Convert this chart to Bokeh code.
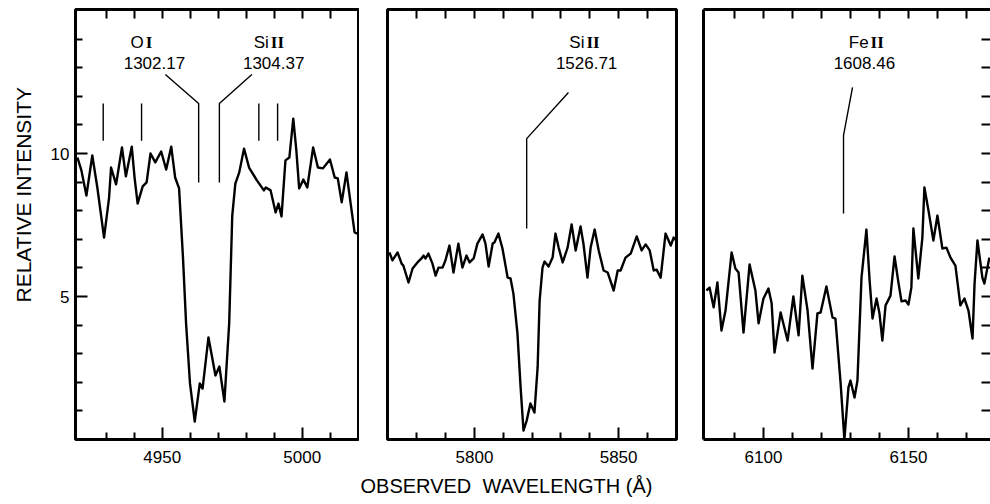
from bokeh.plotting import figure
from bokeh.layouts import row
from bokeh.models import LinearAxis, FixedTicker, Range1d, Title
from bokeh.embed import file_html
from bokeh.resources import INLINE
from bokeh.core.properties import value

FONT = "Liberation Sans"
NUM_FONT = "Liberation Serif"

# ---------------- data ----------------
wl1 = [4919.7, 4921.1, 4922.9, 4925.0, 4926.8, 4929.2, 4931.0, 4931.7, 4933.5, 4935.6,
       4937.0, 4939.1, 4940.1, 4941.2, 4943.0, 4944.4, 4945.8, 4947.5, 4949.6, 4951.4,
       4953.2, 4954.6, 4956.0, 4957.4, 4958.5, 4959.9, 4961.6, 4963.4, 4964.4, 4966.5,
       4969.0, 4970.4, 4972.2, 4973.9, 4975.0, 4976.1, 4977.5, 4979.2, 4981.0, 4983.8,
       4986.3, 4987.0, 4988.7, 4990.5, 4991.5, 4992.6, 4994.0, 4995.4, 4996.8, 4997.9,
       4998.9, 5000.4, 5001.8, 5003.9, 5005.6, 5007.4, 5009.9, 5011.6, 5012.7, 5014.1,
       5015.8, 5017.3, 5018.7, 5019.7]
int1 = [9.86, 9.41, 8.53, 9.93, 8.81, 7.06, 8.46, 9.51, 8.92, 10.21,
        9.20, 10.24, 9.16, 8.25, 8.85, 8.99, 10.0, 9.69, 10.07, 9.44,
        10.24, 9.16, 8.78, 6.36, 4.06, 1.96, 0.63, 1.96, 1.78, 3.57,
        2.24, 2.55, 1.33, 4.06, 7.83, 8.95, 9.34, 10.17, 9.51, 9.06,
        8.71, 8.81, 8.71, 7.94, 8.25, 7.80, 9.76, 9.86, 11.22, 10.10,
        8.78, 9.09, 8.81, 10.21, 9.51, 9.48, 9.79, 9.16, 9.13, 8.29,
        9.34, 8.25, 7.24, 7.20]

wl2 = [5770.5, 5771.5, 5773.3, 5774.7, 5775.3, 5777.1, 5778.5, 5780.2, 5781.6, 5782.3,
       5783.0, 5784.0, 5785.4, 5786.5, 5787.5, 5788.9, 5789.9, 5791.3, 5792.7, 5794.4,
       5795.8, 5797.2, 5798.3, 5799.7, 5801.0, 5802.8, 5803.8, 5804.9, 5806.3, 5806.9,
       5808.3, 5809.7, 5811.5, 5812.5, 5813.5, 5814.9, 5816.0, 5817.0, 5818.1, 5819.4,
       5820.8, 5821.9, 5822.6, 5823.6, 5824.3, 5825.7, 5827.1, 5828.1, 5829.2, 5830.6,
       5832.3, 5833.7, 5835.1, 5836.8, 5837.8, 5839.2, 5840.3, 5841.7, 5843.1, 5844.8,
       5846.2, 5848.3, 5849.7, 5850.7, 5852.4, 5854.2, 5856.3, 5858.0, 5859.4, 5860.8,
       5862.2, 5863.2, 5864.6, 5866.3, 5868.1, 5869.1, 5870.0]
int2 = [6.54, 6.26, 6.54, 6.15, 6.08, 5.49, 5.98, 6.19, 6.33, 6.43,
        6.33, 6.50, 6.15, 5.73, 6.01, 6.01, 6.26, 6.78, 5.84, 6.85,
        6.01, 6.43, 6.19, 6.33, 6.85, 7.17, 6.85, 6.05, 6.85, 6.89,
        7.20, 6.68, 5.66, 5.63, 5.10, 3.71, 1.82, 0.31, 0.66, 1.26,
        0.94, 2.52, 4.86, 6.01, 6.22, 6.05, 6.36, 7.20, 6.71, 6.19,
        6.71, 7.52, 6.61, 7.45, 6.85, 5.66, 6.71, 7.34, 6.61, 5.91,
        5.84, 5.21, 5.91, 5.91, 6.36, 6.50, 7.10, 6.61, 6.82, 6.61,
        5.91, 5.94, 5.66, 7.20, 6.78, 7.06, 6.96]

wl3 = [6080.3, 6081.4, 6082.8, 6084.1, 6085.5, 6086.9, 6089.0, 6090.3, 6091.4, 6093.1,
       6095.2, 6097.2, 6098.3, 6099.7, 6100.0, 6101.7, 6102.8, 6103.8, 6105.9, 6108.3,
       6110.3, 6112.1, 6113.4, 6115.2, 6116.9, 6118.6, 6119.7, 6121.7, 6123.8, 6124.8,
       6126.6, 6127.9, 6129.3, 6130.0, 6131.4, 6132.4, 6133.8, 6135.5, 6136.6, 6137.6,
       6139.0, 6140.0, 6141.0, 6142.1, 6143.8, 6145.2, 6146.6, 6147.6, 6149.0, 6150.0,
       6151.0, 6151.7, 6153.4, 6154.8, 6155.5, 6156.9, 6158.6, 6160.0, 6161.7, 6163.1,
       6164.5, 6166.2, 6167.9, 6169.3, 6170.7, 6172.1, 6172.8, 6173.8, 6175.5, 6176.2,
       6177.9]
int3 = [5.21, 5.31, 4.62, 5.49, 3.81, 4.51, 6.54, 5.98, 5.84, 3.74,
        6.12, 5.21, 4.06, 4.79, 4.93, 5.28, 4.76, 3.04, 4.44, 3.46,
        5.00, 3.64, 5.73, 4.51, 2.48, 4.41, 4.44, 5.35, 4.27, 4.23,
        1.96, 0.0, 1.82, 2.06, 1.47, 2.06, 5.66, 7.34, 5.56, 4.23,
        4.93, 4.41, 3.46, 4.69, 5.03, 6.40, 5.45, 4.83, 4.86, 4.72,
        5.31, 7.38, 5.63, 7.06, 8.81, 8.01, 6.96, 7.83, 6.68, 6.71,
        6.36, 6.08, 4.69, 4.93, 4.51, 3.53, 5.45, 6.96, 5.66, 5.45,
        6.36]

# line identifications: leader polylines (label end, knee, line end)
id1_oi_x = [4951.1, 4963.0, 4963.0]
id1_si_x = [4982.0, 4970.4, 4970.4]
id1_y = [12.76, 11.75, 8.99]
marks1_x = [4928.9, 4942.6, 4984.5, 4991.2]
marks1_y = [10.45, 11.75]
id2_x = [5832.6, 5818.1, 5818.1]
id2_y = [12.13, 10.52, 7.38]
id3_x = [6130.7, 6127.6, 6127.6]
id3_y = [12.31, 10.63, 7.90]

# ion labels: element, ionisation stage (roman numeral), rest wavelength
elem1, stage1, split1 = ["O", "Si"], ["I", "II"], [4943.7, 4988.4]
rest1, rest1_x = ["1302.17", "1304.37"], [4947.2, 4989.8]
elem2, stage2, split2 = ["Si"], ["II"], [5838.5]
rest2, rest2_x = ["1526.71"], [5838.9]
elem3, stage3, split3 = ["Fe"], ["II"], [6136.6]
rest3, rest3_x = ["1608.46"], [6134.8]
ion_y, rest_y = 13.87, 13.17

xmaj1, xmin1 = [4950, 5000], [4930, 4940, 4960, 4970, 4980, 4990, 5010]
xmaj2, xmin2 = [5800, 5850], [5780, 5790, 5810, 5820, 5830, 5840, 5860]
xmaj3, xmin3 = [6100, 6150], [6090, 6110, 6120, 6130, 6140, 6160, 6170]
ymaj = [5, 10]
ymin = [1, 2, 3, 4, 6, 7, 8, 9, 11, 12, 13, 14]

YMAX = 430 / 28.6
H = 504


def style_axis(ax, line=False):
    ax.major_tick_in = 12
    ax.major_tick_out = 0
    ax.minor_tick_in = 7
    ax.minor_tick_out = 0
    ax.major_tick_line_width = 2
    ax.minor_tick_line_width = 2
    ax.major_tick_line_color = "black"
    ax.minor_tick_line_color = "black"
    ax.major_label_text_font = FONT
    ax.major_label_text_font_size = "17px"
    ax.major_label_text_color = "black"
    ax.major_label_standoff = 11
    if line:
        ax.axis_line_width = 3
        ax.axis_line_color = "black"
    else:
        ax.axis_line_color = None


def make_fig(xr, width, bl, br, outline=True):
    p = figure(width=width, height=H, x_range=Range1d(*xr), y_range=Range1d(0, YMAX),
               output_backend="svg", toolbar_location=None,
               x_axis_location=None, y_axis_location=None,
               min_border_left=bl, min_border_right=br, min_border_top=9, min_border_bottom=65)
    p.grid.visible = False
    p.background_fill_color = "white"
    p.border_fill_color = "white"
    if outline:
        p.outline_line_color = "black"
        p.outline_line_width = 3
    else:
        p.outline_line_color = None
    return p


def add_x_axes(p, maj, mn, line=False):
    bot = LinearAxis(ticker=FixedTicker(ticks=maj, minor_ticks=mn))
    style_axis(bot, line=line)
    p.add_layout(bot, "below")
    top = LinearAxis(ticker=FixedTicker(ticks=[], minor_ticks=sorted(maj + mn)))
    style_axis(top, line=line)
    top.minor_tick_in = 9
    p.add_layout(top, "above")


def add_ids(p, elems, stages, splits, rests, rests_x):
    n = len(elems)
    p.text(x=splits, y=[ion_y] * n, text=elems, text_font=value(FONT), x_offset=-1,
           text_font_size="17px", text_align="right", text_baseline="middle", text_color="black")
    p.text(x=splits, y=[ion_y] * n, text=stages, text_font=value(NUM_FONT), x_offset=1,
           text_font_size="17px", text_font_style="bold", text_align="left",
           text_baseline="middle", text_color="black")
    p.text(x=rests_x, y=[rest_y] * len(rests), text=rests, text_font=value(FONT),
           text_font_size="17px", text_align="center", text_baseline="middle", text_color="black")


# ---------------- panel 1 ----------------
p1 = make_fig((4919.0, 5020.1), 359, 71, 1)
add_x_axes(p1, xmaj1, xmin1)
yl = LinearAxis(ticker=FixedTicker(ticks=ymaj, minor_ticks=ymin))
style_axis(yl)
yl.major_label_standoff = 6
p1.add_layout(yl, "left")
p1.add_layout(Title(text="RELATIVE INTENSITY", align="left", offset=137, vertical_align="top",
                    text_font=FONT, text_font_size="21px", text_font_style="normal",
                    text_color="black", standoff=22), "left")
p1.line(wl1, int1, line_width=2.4, color="black", line_join="round")
p1.line(id1_oi_x, id1_y, line_width=1.4, color="black")
p1.line(id1_si_x, id1_y, line_width=1.4, color="black")
p1.segment(x0=marks1_x, y0=[marks1_y[0]] * 4, x1=marks1_x, y1=[marks1_y[1]] * 4,
           line_width=1.4, color="black")
add_ids(p1, elem1, stage1, split1, rest1, rest1_x)

# ---------------- panel 2 ----------------
p2 = make_fig((5769.8, 5870.1), 330, 28, 13)
add_x_axes(p2, xmaj2, xmin2)
p2.add_layout(Title(text="OBSERVED\u00a0 WAVELENGTH (\u00c5)", align="left", offset=-27,
                    text_font=FONT, text_font_size="20px", text_font_style="normal",
                    text_color="black", standoff=14), "below")
p2.line(wl2, int2, line_width=2.4, color="black", line_join="round")
p2.line(id2_x, id2_y, line_width=1.4, color="black")
add_ids(p2, elem2, stage2, split2, rest2, rest2_x)

# ---------------- panel 3 ----------------
p3 = make_fig((6079.3, 6178.3), 301, 14, 0, outline=False)
add_x_axes(p3, xmaj3, xmin3, line=True)
left3 = LinearAxis(ticker=FixedTicker(ticks=[], minor_ticks=[]))
style_axis(left3, line=True)
p3.add_layout(left3, "left")
yr = LinearAxis(ticker=FixedTicker(ticks=[], minor_ticks=sorted(ymaj + ymin)))
style_axis(yr)
yr.minor_tick_in = 9
p3.add_layout(yr, "right")
p3.line(wl3, int3, line_width=2.4, color="black", line_join="round")
p3.line(id3_x, id3_y, line_width=1.4, color="black")
add_ids(p3, elem3, stage3, split3, rest3, rest3_x)

layout = row(p1, p2, p3)
open("out.html", "w").write(file_html(layout, INLINE))
